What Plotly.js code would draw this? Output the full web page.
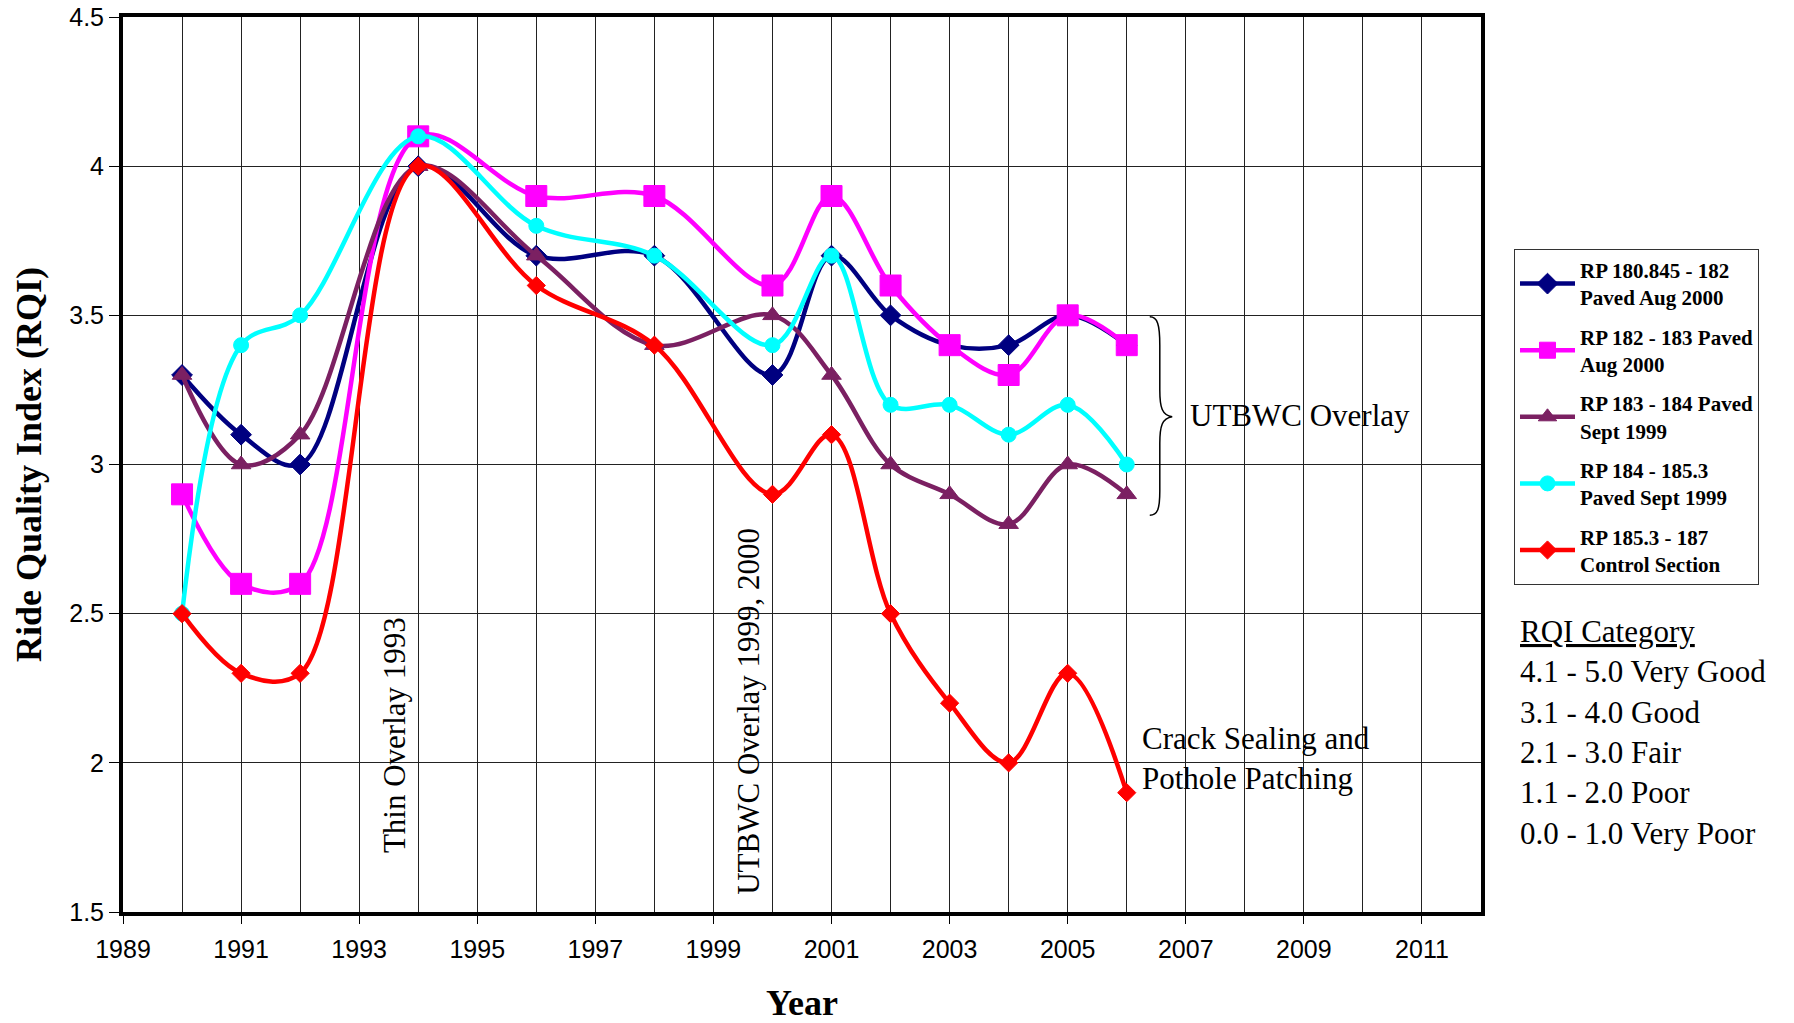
<!DOCTYPE html>
<html>
<head>
<meta charset="utf-8">
<script src="https://cdn.plot.ly/plotly-3.0.1.min.js"></script>
<style>html,body{margin:0;padding:0;background:#fff;}#chart{width:1794px;height:1023px;}</style>
</head>
<body>
<div id="chart"></div>
<script>
const years = [1990, 1991, 1992, 1994, 1996, 1998, 2000, 2001, 2002, 2003, 2004, 2005, 2006];
const rp180 = [3.3, 3.1, 3.0, 4.0, 3.7, 3.7, 3.3, 3.7, 3.5, 3.4, 3.4, 3.5, 3.4];
const rp182 = [2.9, 2.6, 2.6, 4.1, 3.9, 3.9, 3.6, 3.9, 3.6, 3.4, 3.3, 3.5, 3.4];
const rp183 = [3.3, 3.0, 3.1, 4.0, 3.7, 3.4, 3.5, 3.3, 3.0, 2.9, 2.8, 3.0, 2.9];
const rp184 = [2.5, 3.4, 3.5, 4.1, 3.8, 3.7, 3.4, 3.7, 3.2, 3.2, 3.1, 3.2, 3.0];
const rp185 = [2.5, 2.3, 2.3, 4.0, 3.6, 3.4, 2.9, 3.1, 2.5, 2.2, 2.0, 2.3, 1.9];
const seriesNames = [
  "RP 180.845 - 182<br>Paved Aug 2000",
  "RP 182 - 183 Paved<br>Aug 2000",
  "RP 183 - 184 Paved<br>Sept 1999",
  "RP 184 - 185.3<br>Paved Sept 1999",
  "RP 185.3 - 187<br>Control Section"
];
const categoryLines = [
  "4.1 - 5.0 Very Good",
  "3.1 - 4.0 Good",
  "2.1 - 3.0 Fair",
  "1.1 - 2.0 Poor",
  "0.0 - 1.0 Very Poor"
];

const SERIF = "Liberation Serif, Times New Roman, serif";
const SANS = "Liberation Sans, Arial, sans-serif";

const styles = [
  {color: "#000080", symbol: "diamond", size: 16},
  {color: "#FF00FF", symbol: "square", size: 21},
  {color: "#7B2062", symbol: "triangle-up", size: 17},
  {color: "#00FFFF", symbol: "circle", size: 15},
  {color: "#FF0000", symbol: "diamond", size: 14}
];
const values = [rp180, rp182, rp183, rp184, rp185];

const traces = values.map((v, i) => ({
  x: years, y: v, name: seriesNames[i], type: "scatter", mode: "lines+markers",
  legendgroup: "g" + i,
  line: {color: styles[i].color, width: 4.5, shape: "spline", smoothing: 1},
  marker: {color: styles[i].color, symbol: styles[i].symbol, size: styles[i].size,
           line: {color: i === 0 ? "#000080" : styles[i].color, width: 1}}
}));

const layout = {
  width: 1794, height: 1023,
  margin: {l: 123, r: 313, t: 17, b: 111},
  paper_bgcolor: "#fff", plot_bgcolor: "#fff",
  showlegend: true,
  legend: {
    x: 1.0243, y: 0.741, xanchor: "left", yanchor: "top",
    bordercolor: "#333", borderwidth: 1, bgcolor: "#fff",
    font: {family: SERIF, size: 21, color: "#000", weight: "bold"},
    itemwidth: 55, tracegroupgap: 9
  },
  xaxis: {
    range: [1989, 2012], tick0: 1989, dtick: 2, ticks: "outside", ticklen: 8, tickwidth: 1, tickcolor: "#000",
    ticklabelstandoff: 4,
    showgrid: true, gridcolor: "#222", gridwidth: 1, zeroline: false,
    minor: {dtick: 1, tick0: 1989, showgrid: true, gridcolor: "#222", gridwidth: 1, ticks: ""},
    showline: true, linecolor: "#000", linewidth: 4, mirror: true,
    tickfont: {family: SANS, size: 25, color: "#000"},
    title: {text: "<b>Year</b>", font: {family: SERIF, size: 36, color: "#000"}, standoff: 34}
  },
  yaxis: {
    range: [1.5, 4.5], dtick: 0.5, ticks: "outside", ticklen: 10, tickwidth: 1, tickcolor: "#000",
    showgrid: true, gridcolor: "#222", gridwidth: 1, zeroline: false,
    showline: true, linecolor: "#000", linewidth: 4, mirror: true,
    tickfont: {family: SANS, size: 25, color: "#000"},
    title: {text: "<b>Ride Quality Index (RQI)</b>", font: {family: SERIF, size: 36, color: "#000"}, standoff: 18}
  },
  shapes: [{
    type: "path", xref: "x", yref: "y",
    path: "M 2006.39,3.495 C 2006.52,3.495 2006.56,3.47 2006.56,3.40 L 2006.56,3.25 C 2006.56,3.19 2006.6,3.165 2006.77,3.16 C 2006.6,3.155 2006.56,3.13 2006.56,3.07 L 2006.56,2.91 C 2006.56,2.85 2006.52,2.83 2006.39,2.83",
    line: {color: "#000", width: 1.5}
  }],
  annotations: [
    {x: 1993.59, y: 2.093, xref: "x", yref: "y", text: "Thin Overlay 1993", textangle: -90, showarrow: false,
     font: {family: SERIF, size: 31, color: "#000"}},
    {x: 1999.6, y: 2.174, xref: "x", yref: "y", text: "UTBWC Overlay 1999, 2000", textangle: -90, showarrow: false,
     font: {family: SERIF, size: 31, color: "#000"}},
    {x: 2006.23, y: 2.013, xref: "x", yref: "y", xanchor: "left", align: "left", text: "Crack Sealing and<br>Pothole Patching", showarrow: false,
     font: {family: SERIF, size: 31, color: "#000"}},
    {x: 2007.04, y: 3.163, xref: "x", yref: "y", xanchor: "left", text: "UTBWC Overlay", showarrow: false,
     font: {family: SERIF, size: 31, color: "#000"}},
    {x: 1.027, y: 0.335, xref: "paper", yref: "paper", xanchor: "left", yanchor: "top", align: "left",
     text: "<u>RQI Category</u><br>" + categoryLines.join("<br>"), showarrow: false,
     font: {family: SERIF, size: 31, color: "#000"}}
  ]
};

Plotly.newPlot("chart", traces, layout, {displayModeBar: false, staticPlot: true});
</script>
</body>
</html>
